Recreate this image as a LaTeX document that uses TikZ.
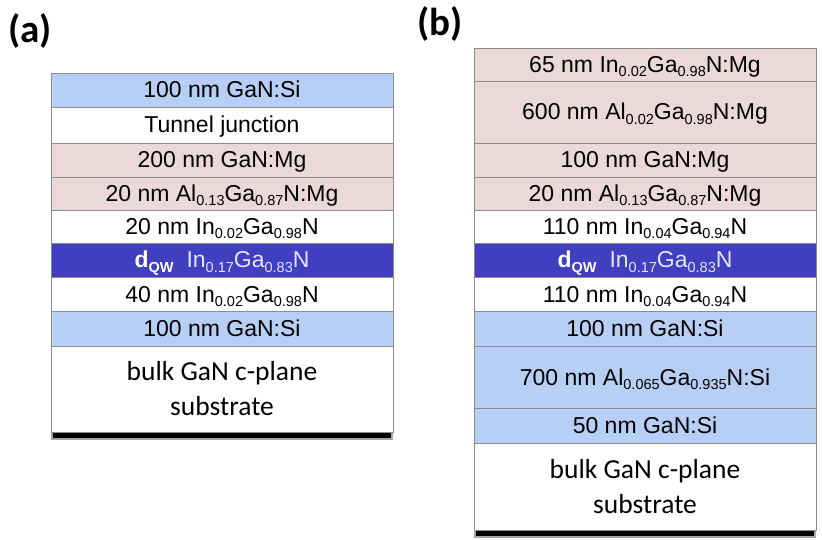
\documentclass[tikz,border=0pt]{standalone}
\usepackage{fontspec}
\setmainfont{Liberation Sans}
\newfontfamily\calfont{Carlito}
\definecolor{lblue}{HTML}{B7CFF4}
\definecolor{lpink}{HTML}{EBD8D9}
\definecolor{qwblue}{HTML}{3F3FBF}
\definecolor{qwtext}{HTML}{E4E4FF}
\definecolor{edge}{HTML}{8C8C8C}
\newcommand\sbs[1]{\raisebox{-4.5pt}{\fontsize{14.5}{15}\selectfont #1}}
\newcommand\qwlabel{{\color{white}\bfseries d\raisebox{-4.5pt}{\fontsize{14.5}{15}\selectfont QW}}\hspace{13pt}{\color{qwtext}In\sbs{0.17}Ga\sbs{0.83}N}}
\tikzset{
  layer/.style={draw=edge, line width=0.8pt, minimum width=342pt, inner sep=0pt, outer sep=0pt,
    font=\fontsize{23}{27}\selectfont, text height=16pt, text depth=0pt, anchor=center},
  sublayer/.style={draw=edge, line width=0.8pt, minimum width=342pt, inner sep=0pt, outer sep=0pt,
    font=\calfont\fontsize{27.5}{35}\selectfont, align=center, anchor=center},
  panel/.style={font=\calfont\bfseries\fontsize{39}{40}\selectfont, anchor=base west, inner sep=0pt},
  shadowband/.style={fill=black},
  shadowsoft/.style={fill=black, opacity=0.35}
}
% \lay{name}{centre x}{top}{bottom}{style}{text}
\newcommand\lay[6]{%
  \pgfmathsetmacro\lc{(#3+#4)/2}%
  \pgfmathsetmacro\lh{#4-#3}%
  \node[#5, minimum height=\lh pt] (#1) at (#2,\lc) {#6};}
\begin{document}
\begin{tikzpicture}[x=1pt,y=-1pt]
\useasboundingbox (0,0) rectangle (822,540);
% panel labels
\node[panel] (la) at (8,43) {(a)};
\node[panel] (lb) at (417,36) {(b)};
% shadows
\fill[shadowsoft] (51,430) rectangle (393,440);
\fill[shadowband] (53,431) rectangle (391,437.5);
\fill[shadowsoft] (474,528) rectangle (816,538);
\fill[shadowband] (476,529) rectangle (814,535.5);
% stack (a)
\lay{a1}{222}{73}{107}{layer, fill=lblue}{100 nm GaN:Si}
\lay{a2}{222}{107}{143}{layer, fill=white}{Tunnel junction}
\lay{a3}{222}{143}{177}{layer, fill=lpink}{200 nm GaN:Mg}
\lay{a4}{222}{177}{210}{layer, fill=lpink}{20 nm Al\sbs{0.13}Ga\sbs{0.87}N:Mg}
\lay{a5}{222}{210}{243}{layer, fill=white}{20 nm In\sbs{0.02}Ga\sbs{0.98}N}
\lay{a6}{222}{243}{277}{layer, fill=qwblue}{\qwlabel}
\lay{a7}{222}{277}{311}{layer, fill=white}{40 nm In\sbs{0.02}Ga\sbs{0.98}N}
\lay{a8}{222}{311}{346}{layer, fill=lblue}{100 nm GaN:Si}
\lay{a9}{222}{346}{432}{sublayer, fill=white}{bulk GaN c-plane\\substrate}
% stack (b)
\lay{b1}{645}{48}{81}{layer, fill=lpink}{65 nm In\sbs{0.02}Ga\sbs{0.98}N:Mg}
\lay{b2}{645}{81}{143}{layer, fill=lpink}{600 nm Al\sbs{0.02}Ga\sbs{0.98}N:Mg}
\lay{b3}{645}{143}{177}{layer, fill=lpink}{100 nm GaN:Mg}
\lay{b4}{645}{177}{210}{layer, fill=lpink}{20 nm Al\sbs{0.13}Ga\sbs{0.87}N:Mg}
\lay{b5}{645}{210}{243}{layer, fill=white}{110 nm In\sbs{0.04}Ga\sbs{0.94}N}
\lay{b6}{645}{243}{277}{layer, fill=qwblue}{\qwlabel}
\lay{b7}{645}{277}{311}{layer, fill=white}{110 nm In\sbs{0.04}Ga\sbs{0.94}N}
\lay{b8}{645}{311}{346}{layer, fill=lblue}{100 nm GaN:Si}
\lay{b9}{645}{346}{408}{layer, fill=lblue}{700 nm Al\sbs{0.065}Ga\sbs{0.935}N:Si}
\lay{b10}{645}{408}{443}{layer, fill=lblue}{50 nm GaN:Si}
\lay{b11}{645}{443}{530}{sublayer, fill=white}{bulk GaN c-plane\\substrate}
\end{tikzpicture}
\end{document}
